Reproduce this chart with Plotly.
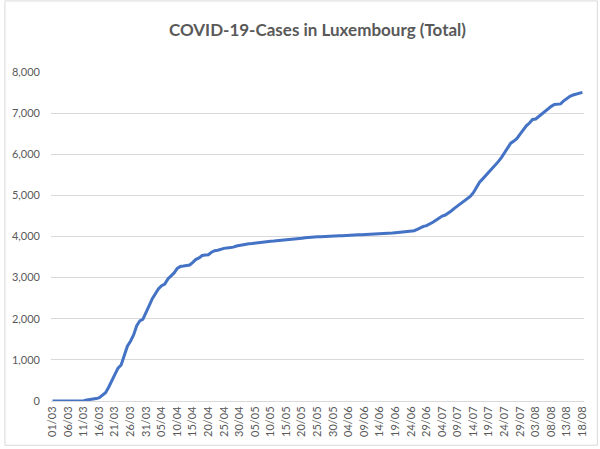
import datetime as dt

import plotly.graph_objects as go

# %% data: total cases (01/03 .. 18/08)
start_date = dt.date(2020, 3, 1)

cases_mar = [1, 1, 1, 1, 2, 3, 4, 5, 5, 7, 7, 26, 34, 51, 59, 81, 140, 203, 335, 484,
             670, 798, 875, 1099, 1333, 1453, 1605, 1831, 1950, 1988, 2178]
cases_apr = [2319, 2487, 2612, 2729, 2804, 2843, 2970, 3034, 3115, 3223, 3270, 3281, 3292,
             3307, 3373, 3444, 3480, 3537, 3550, 3558, 3618, 3654, 3665, 3695, 3711, 3723,
             3729, 3741, 3769, 3784]
cases_may = [3802, 3812, 3824, 3828, 3840, 3851, 3859, 3871, 3877, 3886, 3888, 3894, 3904,
             3915, 3923, 3930, 3930, 3945, 3947, 3958, 3971, 3980, 3981, 3990, 3993, 3995,
             4001, 4008, 4012, 4016, 4018]
cases_jun = [4019, 4020, 4027, 4032, 4035, 4040, 4040, 4043, 4046, 4047, 4049, 4052, 4056,
             4059, 4065, 4070, 4075, 4085, 4093, 4103, 4110, 4116, 4120, 4133, 4140, 4173,
             4216, 4245, 4265, 4299]
cases_jul = [4345, 4395, 4456, 4496, 4522, 4567, 4626, 4690, 4743, 4800, 4856, 4915, 4975,
             5066, 5182, 5322, 5401, 5480, 5570, 5640, 5720, 5820, 5920, 6031, 6150, 6270,
             6321, 6385, 6490, 6600, 6690]
cases_aug = [6760, 6846, 6858, 6920, 6990, 7050, 7110, 7165, 7210, 7215, 7225, 7300, 7365,
             7410, 7440, 7465, 7480, 7505]

y_ticks = [0, 1000, 2000, 3000, 4000, 5000, 6000, 7000, 8000]

# %%
cases = cases_mar + cases_apr + cases_may + cases_jun + cases_jul + cases_aug
labels = [(start_date + dt.timedelta(days=i)).strftime("%d/%m") for i in range(len(cases))]

grey = "#595959"
grid = "#d9d9d9"

fig = go.Figure()
fig.add_trace(
    go.Scatter(
        x=labels,
        y=cases,
        mode="lines",
        line=dict(color="#4472C4", width=3),
        hoverinfo="x+y",
    )
)

# plot area margins (px)
W, H = 600, 449
ml, mr, mt, mb = 47, 15, 72, 46
pw, ph = W - ml - mr, H - mt - mb

fig.update_layout(
    width=W,
    height=H,
    margin=dict(l=ml, r=mr, t=mt, b=mb, pad=0),
    paper_bgcolor="white",
    plot_bgcolor="white",
    showlegend=False,
    font=dict(family="Lato, Open Sans, sans-serif", color=grey, size=11),
    title=dict(
        text="<b>COVID-19-Cases in Luxembourg (Total)</b>",
        x=0.5,
        xref="paper",
        xanchor="center",
        y=1 - 30 / H,
        yanchor="middle",
        font=dict(size=17, color=grey),
    ),
    shapes=[
        dict(
            type="rect",
            xref="paper",
            yref="paper",
            x0=(0.5 - ml) / pw,
            x1=(W - 1.5 - ml) / pw,
            y0=-(mb - 1.5) / ph,
            y1=1 + (mt - 0.5) / ph,
            line=dict(color="#d9d9d9", width=1),
        )
    ],
)

fig.update_xaxes(
    type="category",
    range=[-0.5, len(cases) - 0.5],
    tickmode="array",
    tickvals=labels[::5],
    ticktext=labels[::5],
    tickangle=-90,
    showgrid=False,
    showline=True,
    linecolor=grid,
    linewidth=1,
    ticks="",
    tickfont=dict(size=11, color=grey),
)
fig.update_yaxes(
    range=[0, 8000],
    tickvals=y_ticks,
    tickformat=",",
    showgrid=True,
    gridcolor=grid,
    gridwidth=1,
    zeroline=False,
    showline=False,
    ticks="",
    ticklabelstandoff=10,
    tickfont=dict(size=11, color=grey),
)

fig.write_html(
    "out.html",
    config={"displayModeBar": False},
    post_script="document.body.style.margin = '0px';",
)
